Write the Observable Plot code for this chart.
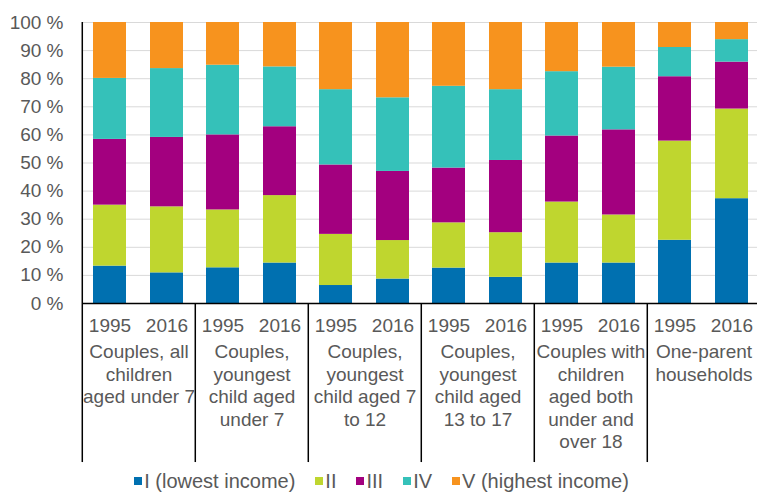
<!DOCTYPE html>
<html><head><meta charset="utf-8">
<script src="https://cdn.jsdelivr.net/npm/d3@7"></script>
<script src="https://cdn.jsdelivr.net/npm/@observablehq/plot@0.6"></script>
<style>
body{margin:0;background:#fff;font-family:"Liberation Sans",Arial,sans-serif;}
#chart{width:757px;height:498px;overflow:hidden;}
#legend{height:24px;display:flex;justify-content:center;align-items:center;padding-left:26px;}
#legend [class$="-swatch"]{margin-right:20px !important;font-size:20px !important;font-family:"Liberation Sans",Arial,sans-serif !important;color:#595959 !important;}
#legend [class$="-swatch"] svg{margin-right:2px !important;}
</style>
</head><body><div id="chart"></div><script>
// ---- data ----
const groups = [
  "Couples, all children aged under 7",
  "Couples, youngest child aged under 7",
  "Couples, youngest child aged 7 to 12",
  "Couples, youngest child aged 13 to 17",
  "Couples with children aged both under and over 18",
  "One-parent households"
];
const groupLabels = [
  "Couples, all\nchildren\naged under 7",
  "Couples,\nyoungest\nchild aged\nunder 7",
  "Couples,\nyoungest\nchild aged 7\nto 12",
  "Couples,\nyoungest\nchild aged\n13 to 17",
  "Couples with\nchildren\naged both\nunder and\nover 18",
  "One-parent\nhouseholds"
];
const years = ["1995", "2016"];
const quintiles = ["I (lowest income)", "II", "III", "IV", "V (highest income)"];
// shares (%) per bar, order: group1-1995, group1-2016, group2-1995, ...
const q1 = [13.3, 10.9, 12.7, 14.4, 6.4, 8.7, 12.6, 9.3, 14.4, 14.4, 22.5, 37.3];
const q2 = [21.7, 23.5, 20.6, 24.0, 18.2, 13.7, 16.1, 15.9, 21.7, 17.1, 35.3, 31.9];
const q3 = [23.4, 24.7, 26.7, 24.5, 24.7, 24.6, 19.5, 25.7, 23.5, 30.3, 22.9, 16.7];
const q4 = [21.7, 24.5, 24.8, 21.3, 26.8, 26.2, 29.1, 25.2, 22.9, 22.3, 10.4, 8.0];
const q5 = [19.9, 16.4, 15.2, 15.8, 23.9, 26.8, 22.7, 23.9, 17.5, 15.9, 8.9, 6.1];
const yTicks = [0, 10, 20, 30, 40, 50, 60, 70, 80, 90, 100];

// ---- styles ----
const colors = ["#0070b0", "#bfd62f", "#a3007f", "#35c1b9", "#f7931e"];
const textColor = "#595959";
const fontFamily = "'Liberation Sans', Arial, sans-serif";
const fs = 19;

// ---- table ----
const series = [q1, q2, q3, q4, q5];
const rows = [];
groups.forEach((g, gi) => years.forEach((yr, yi) => {
  const b = gi * 2 + yi;
  quintiles.forEach((q, qi) => rows.push({group: g, year: yr, quintile: q, value: series[qi][b]}));
}));
const labelOf = new Map(groups.map((g, i) => [g, groupLabels[i]]));

const W = 757, H = 474;
const marginLeft = 81, marginRight = -3;
const facetW = (W - marginLeft - marginRight) / groups.length;
const pIn = 0.42, pOut = 0.19;
const step = facetW / (years.length - pIn + 2 * pOut);
const bw = step * (1 - pIn);
const firstCenter = pOut * step + bw / 2;
const dividerBottom = -56.6;

const chart = Plot.plot({
  width: W, height: H,
  marginTop: 22, marginBottom: H - 303, marginLeft, marginRight,
  style: {fontFamily, fontSize: fs + "px", color: textColor, background: "#fff", overflow: "visible"},
  fx: {domain: groups, padding: 0, axis: null},
  x: {domain: years, paddingInner: pIn, paddingOuter: pOut, axis: null},
  y: {domain: [0, 100], axis: null},
  color: {domain: quintiles, range: colors},
  marks: [
    Plot.ruleY(yTicks.filter(d => d > 0), {stroke: "#d9d9d9", strokeWidth: 1}),
    Plot.barY(rows, {fx: "group", x: "year", y: "value", fill: "quintile", order: quintiles}),
    Plot.axisY({ticks: yTicks, tickFormat: d => `${d} %`, tickSize: 0, tickPadding: 19, fontSize: fs, fill: textColor, label: null}),
    Plot.axisX({tickSize: 0, tickPadding: 15, fontSize: fs, fill: textColor, label: null}),
    Plot.ruleY([0], {stroke: "#000", strokeWidth: 1.5}),
    Plot.ruleX([groups[0]], {fx: d => d, x: () => years[0], dx: -firstCenter, y1: 0, y2: 100, stroke: "#000", strokeWidth: 1.5}),
    Plot.ruleX(groups, {fx: d => d, x: () => years[0], dx: -firstCenter, y1: 0, y2: dividerBottom, stroke: "#000", strokeWidth: 1.5}),
    Plot.text(groups, {fx: d => d, text: d => labelOf.get(d), frameAnchor: "bottom", lineAnchor: "top", dy: 39, lineHeight: 1.18, fontSize: fs, fill: textColor})
  ]
});

const legend = Plot.legend({
  color: {domain: quintiles, range: colors},
  swatchSize: 8,
  style: {fontFamily, fontSize: "20px", color: textColor, background: "#fff"}
});
const root = document.getElementById("chart");
root.appendChild(chart);
const lg = document.createElement("div");
lg.id = "legend";
lg.appendChild(legend);
root.appendChild(lg);
</script></body></html>
